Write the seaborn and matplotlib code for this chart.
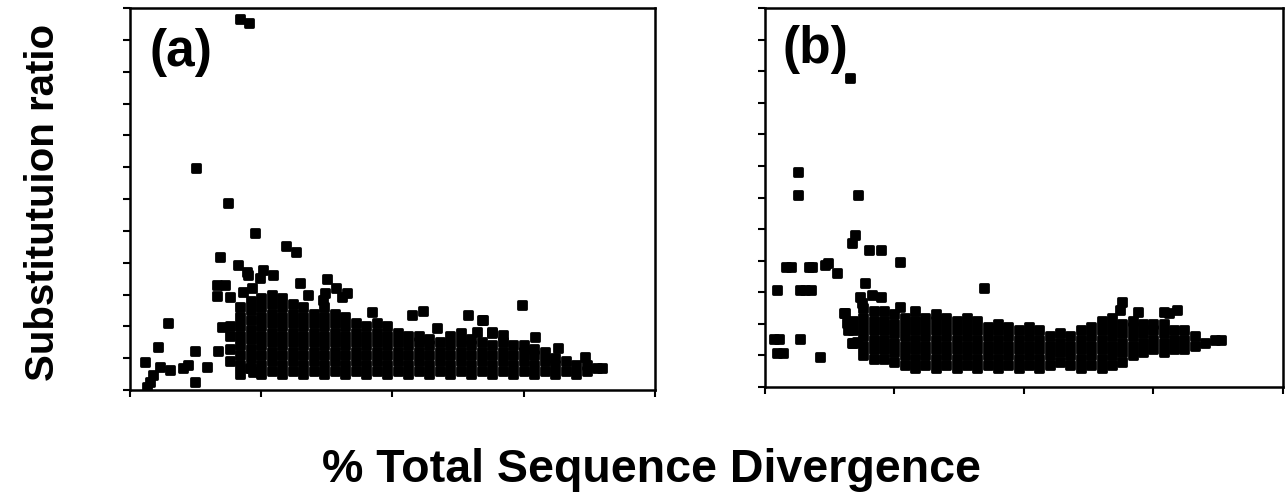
import matplotlib
matplotlib.use("Agg")
import matplotlib.pyplot as plt
import seaborn as sns
import pandas as pd

sns.set_theme(style="ticks")
plt.rcParams['font.family'] = ['Liberation Sans', 'DejaVu Sans']
plt.rcParams['text.color'] = 'black'

# ---- panel (a): outlying points (x = % divergence, y = substitution ratio)
a_x = [4.19, 4.53, 2.51, 3.73, 4.76, 5.94, 6.32, 3.43, 4.11, 4.46, 4.50, 5.07, 5.45, 4.95,
       6.48, 7.50, 7.85, 3.31, 3.62, 4.30, 4.65, 3.31, 3.81, 6.78, 7.43, 7.35, 8.27, 8.08,
       9.22, 10.74, 11.16, 12.88, 13.41, 14.93, 11.70, 1.45, 3.50, 1.07, 2.48, 3.35, 0.57,
       1.14, 1.52, 2.02, 2.21, 2.93, 0.88, 0.76, 0.65, 2.48, 4.57, 4.69, 16.30, 17.33, 17.98,
       13.79, 14.21, 15.43, 13.45, 13.22, 13.79]
a_y = [11.67, 11.54, 6.98, 5.88, 4.94, 4.53, 4.34, 4.18, 3.93, 3.71, 3.62, 3.77, 3.62, 3.52,
       3.36, 3.49, 3.21, 3.30, 3.30, 3.08, 3.21, 2.96, 2.92, 2.99, 3.05, 2.83, 3.05, 2.92,
       2.45, 2.36, 2.48, 2.36, 2.20, 2.67, 1.95, 2.11, 1.98, 1.35, 1.23, 1.23, 0.88,
       0.72, 0.63, 0.69, 0.79, 0.72, 0.47, 0.25, 0.09, 0.25, 0.69, 0.57, 1.32, 1.04, 0.69,
       1.82, 1.73, 1.67, 2.20, 1.82, 1.79]

# panel (a): dense band, read column by column
a_cols = [3.8, 4.2, 4.6, 5.0, 5.4, 5.8, 6.2, 6.6, 7.0, 7.4, 7.8, 8.2, 8.6, 9.0, 9.4, 9.8,
          10.2, 10.6, 11.0, 11.4, 11.8, 12.2, 12.6, 13.0, 13.4, 13.8, 14.2, 14.6, 15.0,
          15.4, 15.8, 16.2, 16.6, 17.0, 17.4, 17.8]
a_col_vals = [
    [0.9, 1.3, 1.7, 2.0],
    [0.5, 0.8, 1.1, 1.4, 1.7, 2.0, 2.3, 2.6],
    [0.7, 1.0, 1.3, 1.6, 1.9, 2.2, 2.5, 2.8],
    [0.5, 0.8, 1.1, 1.4, 1.7, 2.0, 2.3, 2.6, 2.9],
    [0.6, 0.9, 1.2, 1.5, 1.8, 2.1, 2.4, 2.7, 3.0],
    [0.5, 0.8, 1.1, 1.4, 1.7, 2.0, 2.3, 2.6, 2.9],
    [0.6, 0.9, 1.2, 1.5, 1.8, 2.1, 2.4, 2.7],
    [0.5, 0.8, 1.1, 1.4, 1.7, 2.0, 2.3, 2.6],
    [0.6, 0.9, 1.2, 1.5, 1.8, 2.1, 2.4],
    [0.5, 0.8, 1.1, 1.4, 1.7, 2.0, 2.3, 2.6],
    [0.6, 0.9, 1.2, 1.5, 1.8, 2.1, 2.4],
    [0.5, 0.8, 1.1, 1.4, 1.7, 2.0, 2.3],
    [0.6, 0.9, 1.2, 1.5, 1.8, 2.1],
    [0.5, 0.8, 1.1, 1.4, 1.7, 2.0],
    [0.6, 0.9, 1.2, 1.5, 1.8, 2.1],
    [0.5, 0.8, 1.1, 1.4, 1.7, 2.0],
    [0.6, 0.9, 1.2, 1.5, 1.8],
    [0.5, 0.8, 1.1, 1.4, 1.7],
    [0.6, 0.9, 1.2, 1.5, 1.7],
    [0.5, 0.8, 1.1, 1.4, 1.6],
    [0.6, 0.9, 1.2, 1.5],
    [0.5, 0.8, 1.1, 1.4, 1.7],
    [0.6, 0.9, 1.2, 1.5, 1.8],
    [0.5, 0.8, 1.1, 1.4, 1.6],
    [0.6, 0.9, 1.2, 1.5],
    [0.5, 0.8, 1.1, 1.4],
    [0.6, 0.9, 1.2, 1.5],
    [0.5, 0.8, 1.1, 1.4],
    [0.6, 0.9, 1.2, 1.4],
    [0.5, 0.8, 1.1, 1.3],
    [0.6, 0.9, 1.2],
    [0.5, 0.8, 1.0],
    [0.6, 0.9],
    [0.5, 0.8],
    [0.6, 0.8],
    [0.7],
]

# ---- panel (b): outlying points
b_x = [3.29, 1.29, 1.29, 3.60, 3.49, 3.37, 4.00, 4.48, 5.20, 0.81, 1.00, 1.70, 1.80, 2.30,
       2.43, 2.78, 0.46, 1.35, 1.55, 1.78, 8.47, 3.86, 3.67, 3.74, 4.13, 4.48, 0.35, 0.54,
       0.46, 0.69, 1.35, 2.12, 3.05, 5.21, 13.80, 13.70, 14.40, 15.40, 15.90, 17.60, 3.10,
       3.17, 3.20, 3.55, 3.35, 15.60]
b_y = [9.78, 6.81, 6.08, 6.08, 4.81, 4.56, 4.34, 4.34, 3.96, 3.80, 3.80, 3.80, 3.80, 3.86,
       3.93, 3.60, 3.07, 3.07, 3.07, 3.07, 3.13, 3.29, 2.85, 2.66, 2.91, 2.85, 1.52, 1.52,
       1.08, 1.08, 1.52, 0.95, 2.34, 2.53, 2.69, 2.44, 2.38, 2.38, 2.44, 1.49, 2.34,
       2.03, 1.80, 1.42, 1.39, 2.34]

# panel (b): dense band
b_cols = [3.4, 3.8, 4.2, 4.6, 5.0, 5.4, 5.8, 6.2, 6.6, 7.0, 7.4, 7.8, 8.2, 8.6, 9.0, 9.4,
          9.8, 10.2, 10.6, 11.0, 11.4, 11.8, 12.2, 12.6, 13.0, 13.4, 13.8, 14.2, 14.6, 15.0,
          15.4, 15.8, 16.2, 16.6, 17.0, 17.4]
b_col_vals = [
    [1.4, 1.8, 2.1],
    [1.0, 1.3, 1.6, 1.9, 2.2, 2.5],
    [0.9, 1.2, 1.5, 1.8, 2.1, 2.4],
    [0.9, 1.2, 1.5, 1.8, 2.1, 2.4],
    [0.8, 1.1, 1.4, 1.7, 2.0, 2.3],
    [0.7, 1.0, 1.3, 1.6, 1.9, 2.2],
    [0.6, 0.9, 1.2, 1.5, 1.8, 2.1, 2.4],
    [0.7, 1.0, 1.3, 1.6, 1.9, 2.2],
    [0.6, 0.9, 1.2, 1.5, 1.8, 2.1, 2.3],
    [0.7, 1.0, 1.3, 1.6, 1.9, 2.2],
    [0.6, 0.9, 1.2, 1.5, 1.8, 2.1],
    [0.7, 1.0, 1.3, 1.6, 1.9, 2.2],
    [0.6, 0.9, 1.2, 1.5, 1.8, 2.1],
    [0.7, 1.0, 1.3, 1.6, 1.9],
    [0.6, 0.9, 1.2, 1.5, 1.8, 2.0],
    [0.7, 1.0, 1.3, 1.6, 1.9],
    [0.6, 0.9, 1.2, 1.5, 1.8],
    [0.7, 1.0, 1.3, 1.6, 1.9],
    [0.6, 0.9, 1.2, 1.5, 1.8],
    [0.7, 1.0, 1.3, 1.6],
    [0.8, 1.1, 1.4, 1.7],
    [0.7, 1.0, 1.3, 1.6],
    [0.6, 0.9, 1.2, 1.5, 1.8],
    [0.7, 1.0, 1.3, 1.6, 1.9],
    [0.6, 0.9, 1.2, 1.5, 1.8, 2.1],
    [0.7, 1.0, 1.3, 1.6, 1.9, 2.2],
    [0.8, 1.1, 1.4, 1.7, 2.0],
    [1.0, 1.3, 1.6, 1.9, 2.1],
    [1.1, 1.4, 1.7, 2.0],
    [1.2, 1.5, 1.8, 2.0],
    [1.1, 1.4, 1.7, 2.0],
    [1.2, 1.5, 1.8],
    [1.2, 1.5, 1.8],
    [1.3, 1.6],
    [1.4],
    [1.5],
]


def build(xs, ys, cols, col_vals):
    px = list(xs)
    py = list(ys)
    for c, vals in zip(cols, col_vals):
        for v in vals:
            px.append(c)
            py.append(v)
    return pd.DataFrame({'div': px, 'ratio': py})


df_a = build(a_x, a_y, a_cols, a_col_vals)
df_b = build(b_x, b_y, b_cols, b_col_vals)

fig = plt.figure(figsize=(12.85, 4.96), dpi=100)
ax_a = fig.add_axes([0.101, 0.2137, 0.4086, 0.770])
ax_b = fig.add_axes([0.5953, 0.2198, 0.403, 0.764])

for ax, df, lab, lx, ly in [(ax_a, df_a, '(a)', 0.038, 0.948), (ax_b, df_b, '(b)', 0.033, 0.955)]:
    sns.scatterplot(data=df, x='div', y='ratio', ax=ax, marker='s', s=36,
                    color='black', edgecolor='black', linewidth=2.0, joinstyle='round',
                    legend=False)
    ax.set_xlim(0, 20)
    ax.set_ylim(0, 12)
    ax.set_xticks([0, 5, 10, 15, 20])
    ax.set_yticks(range(13))
    ax.tick_params(labelleft=False, labelbottom=False, length=5, width=1.5,
                   direction='out', color='black')
    ax.set_xlabel('')
    ax.set_ylabel('')
    for sp in ax.spines.values():
        sp.set_visible(True)
        sp.set_linewidth(1.8)
        sp.set_color('black')
    ax.text(lx, ly, lab, transform=ax.transAxes, fontsize=37, fontweight='bold',
            va='top', ha='left', color='black')

fig.text(0.0335, 0.591, 'Substitutuion ratio', rotation=90, fontsize=29,
         fontweight='bold', ha='center', va='center', color='black')
fig.text(0.507, 0.028, '% Total Sequence Divergence', fontsize=33.5,
         fontweight='bold', ha='center', va='baseline', color='black')

fig.savefig('out.png', dpi=100)
